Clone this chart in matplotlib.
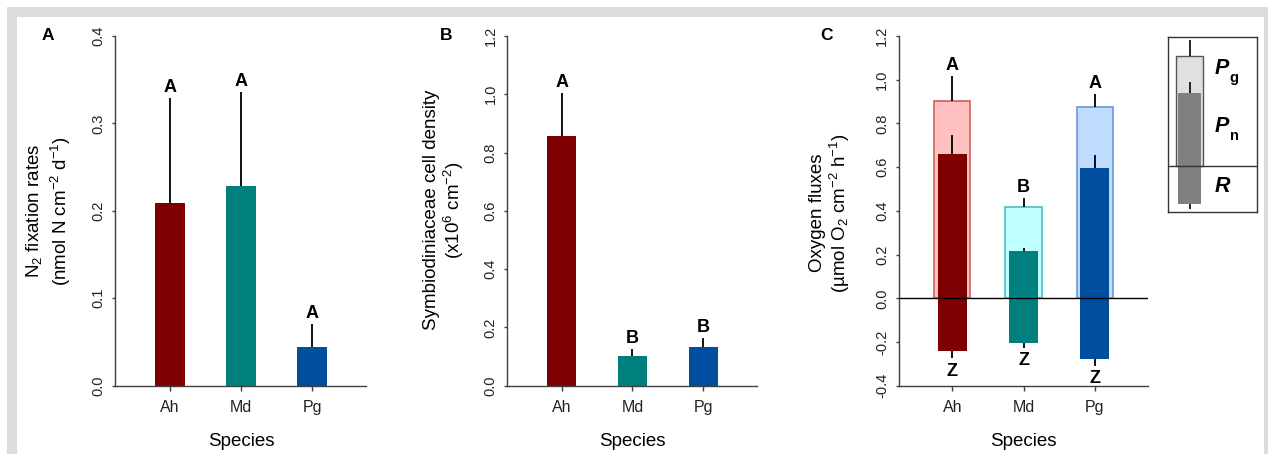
import matplotlib
matplotlib.use("Agg")
import matplotlib.pyplot as plt
from matplotlib.patches import Rectangle

plt.rcParams['font.family'] = ['Liberation Sans', 'DejaVu Sans']
plt.rcParams['mathtext.fontset'] = 'custom'
plt.rcParams['mathtext.rm'] = 'Liberation Sans'
plt.rcParams['mathtext.it'] = 'Liberation Sans:italic'
plt.rcParams['mathtext.bf'] = 'Liberation Sans:bold'

# ---- data ----
species = ['Ah', 'Md', 'Pg']

n2_fix = [0.209, 0.228, 0.044]
n2_fix_se = [0.120, 0.108, 0.027]
n2_letters = ['A', 'A', 'A']

cell_density = [0.857, 0.102, 0.132]
cell_density_se = [0.148, 0.023, 0.031]
cell_letters = ['A', 'B', 'B']

gross_ps = [0.901, 0.418, 0.877]
gross_ps_se = [0.115, 0.042, 0.057]
net_ps = [0.662, 0.215, 0.598]
net_ps_se = [0.087, 0.014, 0.056]
resp = [-0.240, -0.203, -0.279]
resp_se = [0.035, 0.026, 0.031]
ps_letters = ['A', 'B', 'A']
resp_letters = ['Z', 'Z', 'Z']

# schematic key for panel C
key_pg, key_pg_se = 1.10, 0.16
key_pn, key_pn_se = 0.73, 0.11
key_r, key_r_se = -0.38, 0.045

dark_cols = ['#7f0000', '#007f7f', '#004f9f']
light_cols = ['#ffc0c0', '#c0ffff', '#c0ddff']
light_edges = ['#c86060', '#50bcbc', '#6a98d4']

W, H = 1268, 454
fig = plt.figure(figsize=(W / 100, H / 100), dpi=100)

# grey page frame
fig.patches.append(Rectangle((7 / W, 0), 1, 1 - 7 / H, transform=fig.transFigure,
                             facecolor='#dcdcdc', edgecolor='none', zorder=-10))
fig.patches.append(Rectangle((17 / W, -0.01), (1264 - 17) / W, 1 - 17 / H + 0.01,
                             transform=fig.transFigure, facecolor='white',
                             edgecolor='none', zorder=-9))


def px_axes(left, right, top, bottom):
    return fig.add_axes([left / W, 1 - bottom / H, (right - left) / W, (bottom - top) / H])


AX_COL = '#404040'
TOP, BOT = 36.0, 385.7
x = [0, 1, 2]


def style(ax, ylim, yticks, xlim):
    ax.set_xlim(*xlim)
    ax.set_ylim(*ylim)
    for s in ['top', 'right']:
        ax.spines[s].set_visible(False)
    for s in ['left', 'bottom']:
        ax.spines[s].set_color(AX_COL)
        ax.spines[s].set_linewidth(1.0)
    ax.set_yticks(yticks)
    ax.set_yticklabels([f'{v:.1f}' for v in yticks], rotation=90, va='center',
                       fontsize=10.5, color='#222222')
    ax.set_xticks(x)
    ax.set_xticklabels(species, fontsize=11.5, color='#222222')
    ax.tick_params(axis='y', length=2.5, width=1, color=AX_COL, pad=4.5)
    ax.tick_params(axis='x', length=3.6, width=1, color=AX_COL, pad=6.5)
    ax.patch.set_alpha(0)


def two_line_ylabel(xa, xb, yc, l1, l2):
    fig.text(xa / W, 1 - yc / H, l1, rotation=90, ha='center', va='center', fontsize=13.5)
    fig.text(xb / W, 1 - yc / H, l2, rotation=90, ha='center', va='center', fontsize=13.5)


def letter_above(ax, xi, y, s):
    ax.annotate(s, (xi, y), xytext=(0, 1.5), textcoords='offset points',
                ha='center', va='bottom', fontsize=13, fontweight='bold')


def letter_below(ax, xi, y, s):
    ax.annotate(s, (xi, y), xytext=(0, -3), textcoords='offset points',
                ha='center', va='top', fontsize=13, fontweight='bold')


# ---- panel A ----
axA = px_axes(115, 366, TOP, BOT)
style(axA, (0, 0.4), [0.0, 0.1, 0.2, 0.3, 0.4], (-0.775, 2.76))
axA.bar(x, n2_fix, width=0.42, color=dark_cols, zorder=2)
axA.vlines(x, n2_fix, [v + e for v, e in zip(n2_fix, n2_fix_se)], color='black', lw=1.3, zorder=3)
for i in x:
    letter_above(axA, i, n2_fix[i] + n2_fix_se[i], n2_letters[i])
two_line_ylabel(34, 61, 211, r'N$_2$ fixation rates', r'(nmol N cm$^{-2}$ d$^{-1}$)')

# ---- panel B ----
axB = px_axes(507.3, 756.7, TOP, BOT)
style(axB, (0, 1.2), [0.0, 0.2, 0.4, 0.6, 0.8, 1.0, 1.2], (-0.768, 2.754))
axB.bar(x, cell_density, width=0.41, color=dark_cols, zorder=2)
axB.vlines(x, cell_density, [v + e for v, e in zip(cell_density, cell_density_se)],
           color='black', lw=1.3, zorder=3)
for i in x:
    letter_above(axB, i, cell_density[i] + cell_density_se[i], cell_letters[i])
two_line_ylabel(432, 454, 210, 'Symbiodiniaceae cell density', r'(x10$^{6}$ cm$^{-2}$)')

# ---- panel C ----
axC = px_axes(899, 1148.3, TOP, BOT)
style(axC, (-0.4, 1.2), [-0.4, -0.2, 0.0, 0.2, 0.4, 0.6, 0.8, 1.0, 1.2], (-0.749, 2.753))
axC.set_yticklabels(['-0.4', '-0.2', '0.0', '0.2', '0.4', '0.6', '0.8', '1.0', '1.2'],
                    rotation=90, va='center', fontsize=10.5, color='#222222')
axC.bar(x, gross_ps, width=0.51, color=light_cols, edgecolor=light_edges, lw=1.2, zorder=2)
axC.bar(x, net_ps, width=0.41, color=dark_cols, zorder=3)
axC.bar(x, resp, width=0.41, color=dark_cols, zorder=3)
axC.axhline(0, color='black', lw=1.0, zorder=4)
axC.vlines(x, gross_ps, [v + e for v, e in zip(gross_ps, gross_ps_se)], color='black', lw=1.3, zorder=5)
axC.vlines(x, net_ps, [v + e for v, e in zip(net_ps, net_ps_se)], color='black', lw=1.3, zorder=5)
axC.vlines(x, resp, [v - e for v, e in zip(resp, resp_se)], color='black', lw=1.3, zorder=5)
for i in x:
    letter_above(axC, i, gross_ps[i] + gross_ps_se[i], ps_letters[i])
    letter_below(axC, i, resp[i] - resp_se[i], resp_letters[i])
two_line_ylabel(817, 840, 213, 'Oxygen fluxes', r'(µmol O$_2$ cm$^{-2}$ h$^{-1}$)')

# ---- key for panel C ----
axK = px_axes(1167.5, 1256.7, 36.5, 211.5)
axK.set_xlim(0, 1)
axK.set_ylim(-0.455, 1.295)
axK.set_xticks([])
axK.set_yticks([])
for s in axK.spines.values():
    s.set_color('#333333')
    s.set_linewidth(1.0)
kx = 0.249
axK.bar([kx], [key_pg], width=0.306, color='#e0e0e0', edgecolor='#555555', lw=1.0, zorder=2)
axK.bar([kx], [key_pn], width=0.254, color='#808080', zorder=3)
axK.bar([kx], [key_r], width=0.254, color='#808080', zorder=3)
axK.axhline(0, color='#333333', lw=1.0, zorder=4)
axK.vlines([kx], [key_pg], [key_pg + key_pg_se], color='black', lw=1.2, zorder=5)
axK.vlines([kx], [key_pn], [key_pn + key_pn_se], color='black', lw=1.2, zorder=5)
axK.vlines([kx], [key_r], [key_r - key_r_se], color='black', lw=1.2, zorder=5)
for lab, sub, yv in [('P', 'g', 0.97), ('P', 'n', 0.39), ('R', None, -0.20)]:
    t = axK.text(0.53, yv, lab, fontsize=15.5, fontweight='bold', fontstyle='italic',
                 ha='left', va='center')
    if sub:
        axK.annotate(sub, xy=(1.0, 0.0), xycoords=t, xytext=(0.5, -2.0),
                     textcoords='offset points', ha='left', va='baseline',
                     fontsize=10.5, fontweight='bold')

# ---- panel letters and axis titles ----
for lbl, xp in [('A', 48), ('B', 445.7), ('C', 826.7)]:
    fig.text(xp / W, 1 - 35 / H, lbl, ha='center', va='center', fontsize=12.5, fontweight='bold')
for xc in [241, 632, 1023.5]:
    fig.text(xc / W, 1 - 446.5 / H, 'Species', ha='center', va='baseline', fontsize=13.5)

fig.savefig('out.png', dpi=100)
